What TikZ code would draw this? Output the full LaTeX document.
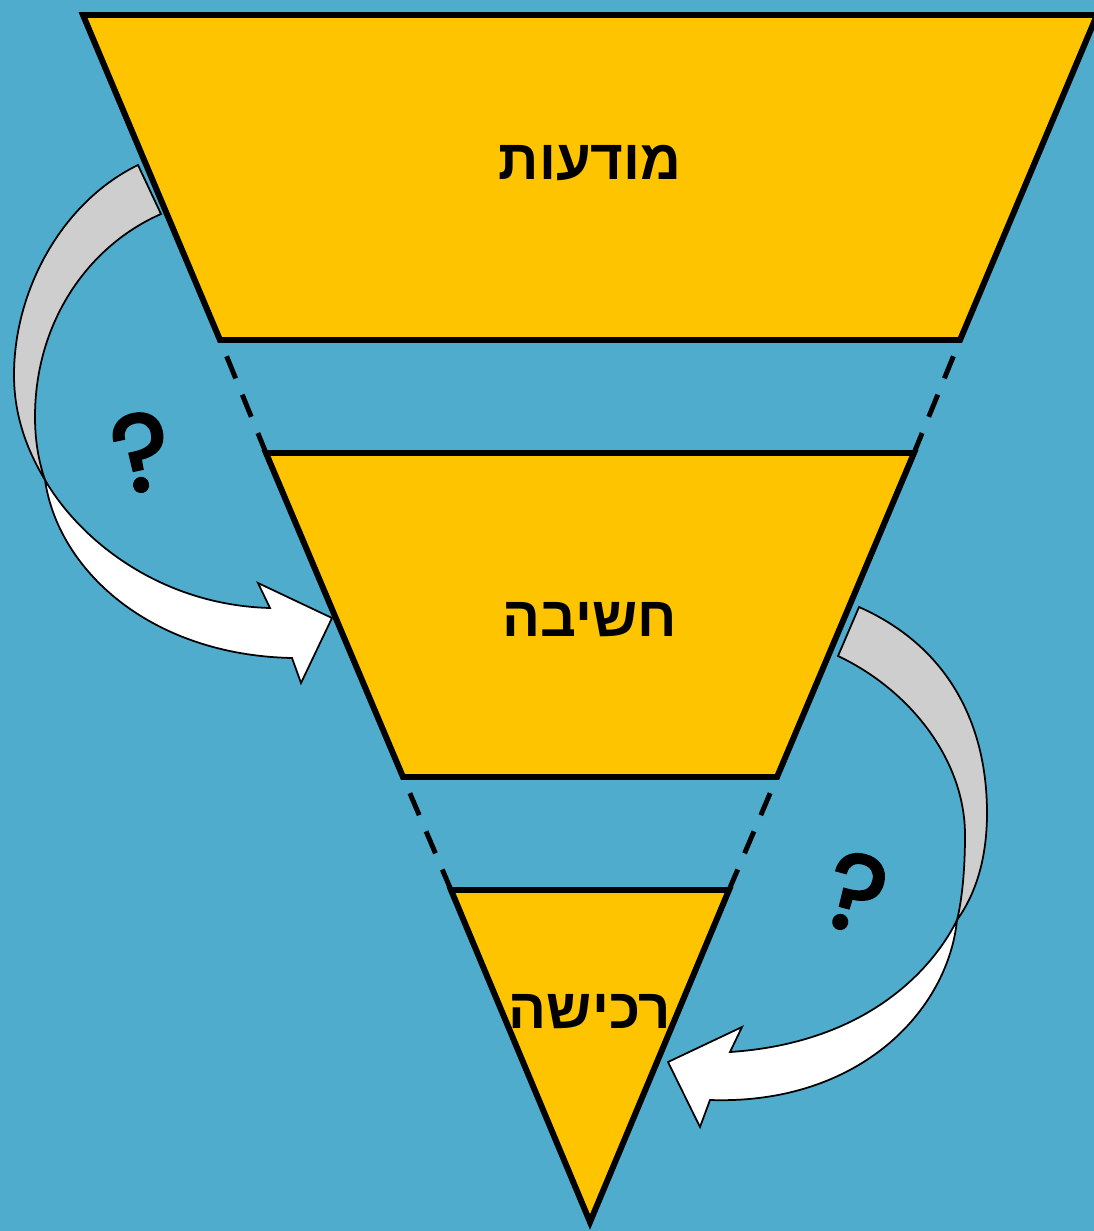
\documentclass[tikz,border=0pt]{standalone}
\usepackage{fontspec}
\newfontfamily\hebfont[Script=Hebrew]{Liberation Sans}
\newfontfamily\qfont[FakeBold=2.5]{Poppins}
\TeXXeTstate=1
\definecolor{sea}{RGB}{80,172,205}
\definecolor{gold}{RGB}{255,196,0}
\definecolor{band}{RGB}{206,206,206}
\tikzset{
  stage/.style={fill=gold,draw=black,line width=3.4pt,line join=miter},
  gapline/.style={draw=black,line width=2.8pt,dash pattern=on 13.6pt off 10pt,dash phase=13.6pt},
  backband/.style={fill=band,draw=black,line width=1pt},
  frontband/.style={fill=white,draw=black,line width=1pt,line join=miter},
  label/.style={font=\hebfont\bfseries\fontsize{32}{38}\selectfont},
  ask/.style={font=\qfont\fontsize{62}{70}\selectfont}
}
\begin{document}
\begin{tikzpicture}[x=0.02cm,y=-0.02cm]
    \useasboundingbox (0,0) rectangle (1094,1231);
    \fill[sea] (0,0) rectangle (1094,1231);

    % left arrow, top stage to middle stage
    \draw[backband] (138,165) .. controls (62,202) and (14,290) .. (14,375)
      .. controls (14,420) and (30,455) .. (45,480)
      .. controls (40,465) and (35,445) .. (35,417)
      .. controls (35,320) and (90,245) .. (161,214) -- cycle;
    \draw[frontband] (45,480) .. controls (80,540) and (160,605) .. (270,608)
      -- (258,583) -- (332,618) -- (301,683) -- (292,658)
      .. controls (150,655) and (58,570) .. (45,480) -- cycle;

    % right arrow, middle stage to bottom stage
    \draw[backband] (859,607) .. controls (945,645) and (987,720) .. (987,813)
      .. controls (987,860) and (975,895) .. (957,920)
      .. controls (962,900) and (965,870) .. (965,835)
      .. controls (965,760) and (910,690) .. (838,656) -- cycle;
    \draw[frontband] (957,920) .. controls (940,955) and (880,1042) .. (730,1052)
      -- (742,1027) -- (668,1062) -- (700,1127) -- (710,1100)
      .. controls (860,1105) and (948,1010) .. (957,920) -- cycle;

    % funnel
    \draw[stage] (83,15) -- (1097,15) -- (960,340) -- (220,340) -- cycle;
    \draw[stage] (266,453) -- (914,453) -- (777,777) -- (403,777) -- cycle;
    \draw[stage] (451,890) -- (729,890) -- (590,1222) -- cycle;
    \draw[gapline] (220,340) -- (266,453);
    \draw[gapline] (960,340) -- (914,453);
    \draw[gapline] (403,777) -- (451,890);
    \draw[gapline] (777,777) -- (729,890);

    \node[label] (modaut) at (590,163) {\beginR מודעות\endR};
    \node[label] (chashiva) at (590,620) {\beginR חשיבה\endR};
    \node[label] (rechisha) at (590,1012) {\beginR רכישה\endR};

    \node[ask,rotate=12] (askleft) at (142,452) {?};
    \node[ask,rotate=-15] (askright) at (856,893) {?};
\end{tikzpicture}
\end{document}
